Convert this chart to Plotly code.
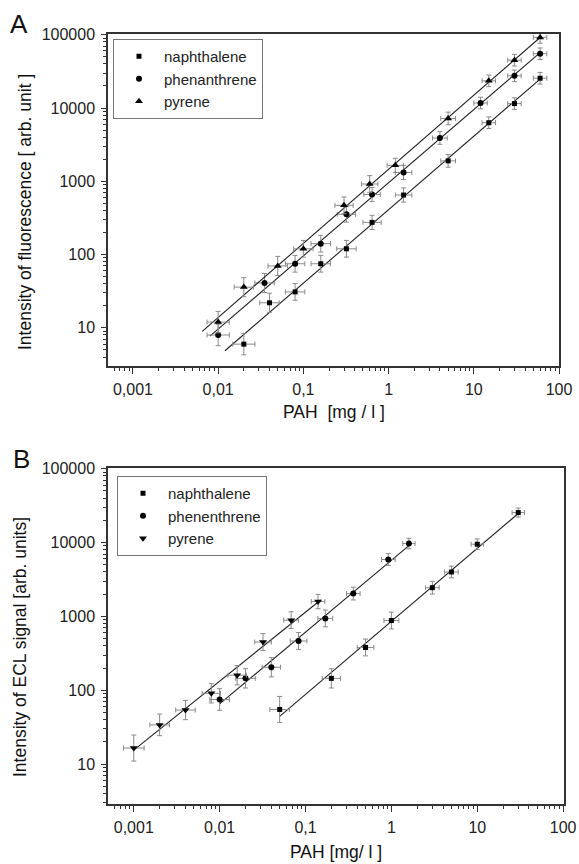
import numpy as np
import plotly.graph_objects as go

# ---------------- Panel A: fluorescence ----------------
a_naph_x = [0.02, 0.04, 0.08, 0.16, 0.32, 0.64, 1.5, 5, 15, 30, 60]
a_naph_y = [6, 22, 31, 75, 120, 275, 650, 1900, 6300, 11500, 25500]
a_phen_x = [0.01, 0.035, 0.08, 0.16, 0.32, 0.64, 1.5, 4, 12, 30, 60]
a_phen_y = [8, 41, 75, 141, 355, 660, 1320, 3900, 11700, 27500, 55000]
a_pyr_x = [0.01, 0.02, 0.05, 0.1, 0.3, 0.6, 1.2, 5, 15, 30, 60]
a_pyr_y = [12, 36, 70, 120, 470, 920, 1650, 7200, 23500, 45000, 92000]

a_naph_yfac = [1.4, 1.35, 1.3, 1.3, 1.3, 1.25, 1.25, 1.22, 1.2, 1.2, 1.2]
a_naph_xfac = [1.35, 1.3, 1.3, 1.3, 1.3, 1.28, 1.25, 1.22, 1.2, 1.2, 1.2]
a_phen_yfac = [1.4, 1.35, 1.3, 1.3, 1.28, 1.25, 1.25, 1.22, 1.2, 1.2, 1.2]
a_phen_xfac = [1.35, 1.3, 1.3, 1.3, 1.28, 1.25, 1.25, 1.22, 1.2, 1.2, 1.2]
a_pyr_yfac = [1.4, 1.35, 1.35, 1.3, 1.3, 1.3, 1.25, 1.22, 1.2, 1.2, 1.2]
a_pyr_xfac = [1.35, 1.3, 1.3, 1.3, 1.28, 1.25, 1.25, 1.22, 1.2, 1.2, 1.2]

a_naph_fit = [0.012, 60]
a_phen_fit = [0.008, 60]
a_pyr_fit = [0.0065, 60]

# ---------------- Panel B: ECL ----------------
b_naph_x = [0.05, 0.2, 0.5, 1, 3, 5, 10, 30]
b_naph_y = [55, 145, 380, 880, 2450, 4000, 9500, 25500]
b_phen_x = [0.01, 0.02, 0.04, 0.083, 0.17, 0.36, 0.92, 1.6]
b_phen_y = [75, 145, 205, 465, 940, 2040, 5900, 9700]
b_pyr_x = [0.001, 0.002, 0.004, 0.008, 0.016, 0.032, 0.068, 0.14]
b_pyr_y = [16.5, 34, 54, 91, 160, 450, 890, 1590]

b_naph_yfac = [1.5, 1.35, 1.3, 1.3, 1.22, 1.2, 1.18, 1.15]
b_naph_xfac = [1.3, 1.28, 1.25, 1.22, 1.2, 1.2, 1.18, 1.18]
b_phen_yfac = [1.4, 1.35, 1.35, 1.3, 1.3, 1.22, 1.2, 1.18]
b_phen_xfac = [1.3, 1.3, 1.28, 1.25, 1.22, 1.2, 1.2, 1.18]
b_pyr_yfac = [1.5, 1.4, 1.35, 1.35, 1.35, 1.3, 1.3, 1.25]
b_pyr_xfac = [1.32, 1.3, 1.3, 1.28, 1.28, 1.25, 1.22, 1.2]

b_naph_fit = [0.05, 30]
b_phen_fit = [0.01, 1.6]
b_pyr_fit = [0.001, 0.15]

# ---------------- ticks ----------------
x_tick_vals = [0.001, 0.01, 0.1, 1, 10, 100]
x_tick_text = ["0,001", "0,01", "0,1", "1", "10", "100"]
y_tick_vals = [10, 100, 1000, 10000, 100000]
y_tick_text = ["10", "100", "1000", "10000", "100000"]

FONT = "Arial, Liberation Sans, sans-serif"
ERRC = "#8a8a8a"


def errs(v, fac):
    v = np.array(v, dtype=float)
    f = np.array(fac, dtype=float)
    return v * (f - 1), v * (1 - 1 / f)


def fit_line(x, y, xr):
    p = np.polyfit(np.log10(x), np.log10(y), 1)
    xs = np.array(xr, dtype=float)
    return xs, 10 ** np.polyval(p, np.log10(xs))


fig = go.Figure()


def add_series(x, y, xfac, yfac, fit, name, symbol, size, xa, ya, legend):
    xs, ys = fit_line(x, y, fit)
    fig.add_trace(go.Scatter(x=xs, y=ys, mode="lines", line=dict(color="#222", width=1.1),
                             showlegend=False, xaxis=xa, yaxis=ya, hoverinfo="skip"))
    yu, yd = errs(y, yfac)
    xu, xd = errs(x, xfac)
    fig.add_trace(go.Scatter(
        x=x, y=y, mode="markers", name=name, xaxis=xa, yaxis=ya, legend=legend,
        marker=dict(symbol=symbol, size=size, color="black"),
        error_y=dict(type="data", symmetric=False, array=yu, arrayminus=yd,
                     color=ERRC, thickness=1, width=2.5),
        error_x=dict(type="data", symmetric=False, array=xu, arrayminus=xd,
                     color=ERRC, thickness=1, width=2.5),
    ))


add_series(a_naph_x, a_naph_y, a_naph_xfac, a_naph_yfac, a_naph_fit, "naphthalene", "square", 5, "x", "y", "legend")
add_series(a_phen_x, a_phen_y, a_phen_xfac, a_phen_yfac, a_phen_fit, "phenanthrene", "circle", 6, "x", "y", "legend")
add_series(a_pyr_x, a_pyr_y, a_pyr_xfac, a_pyr_yfac, a_pyr_fit, "pyrene", "triangle-up", 7, "x", "y", "legend")

add_series(b_naph_x, b_naph_y, b_naph_xfac, b_naph_yfac, b_naph_fit, "naphthalene", "square", 5, "x2", "y2", "legend2")
add_series(b_phen_x, b_phen_y, b_phen_xfac, b_phen_yfac, b_phen_fit, "phenenthrene", "circle", 6, "x2", "y2", "legend2")
add_series(b_pyr_x, b_pyr_y, b_pyr_xfac, b_pyr_yfac, b_pyr_fit, "pyrene", "triangle-down", 7, "x2", "y2", "legend2")

W, H = 579, 864
minor_x = [m * 10.0 ** e for e in range(-4, 3) for m in range(2, 10)]
minor_y = [m * 10.0 ** e for e in range(0, 5) for m in range(2, 10)]


def xax(domain, anchor, rng):
    return dict(type="log", domain=domain, anchor=anchor, range=rng, automargin=False,
                tickmode="array", tickvals=x_tick_vals, ticktext=x_tick_text,
                ticks="outside", ticklen=6, tickwidth=1.2, tickcolor="#333",
                minor=dict(tickvals=minor_x, ticks="outside", ticklen=3.5, tickwidth=1, tickcolor="#333"),
                showline=True, linecolor="#333", linewidth=1.5, mirror=True,
                showgrid=False, zeroline=False, ticklabelstandoff=2,
                tickfont=dict(family=FONT, size=16, color="#222"))


def yax(domain, anchor, rng):
    return dict(type="log", domain=domain, anchor=anchor, range=rng, automargin=False,
                tickmode="array", tickvals=y_tick_vals, ticktext=y_tick_text,
                ticks="outside", ticklen=5, tickwidth=1.2, tickcolor="#333",
                minor=dict(tickvals=minor_y, ticks="outside", ticklen=3, tickwidth=1, tickcolor="#333"),
                showline=True, linecolor="#333", linewidth=1.5, mirror=True,
                showgrid=False, zeroline=False, ticklabelstandoff=3,
                tickfont=dict(family=FONT, size=16, color="#222"))


leg_common = dict(xanchor="left", yanchor="top", bordercolor="#777", borderwidth=1,
                  bgcolor="white", font=dict(family=FONT, size=15, color="#222"),
                  itemwidth=40, tracegroupgap=0)

fig.update_layout(
    template="none",
    width=W, height=H, margin=dict(l=0, r=0, t=0, b=0, autoexpand=False),
    paper_bgcolor="white", plot_bgcolor="white",
    font=dict(family=FONT, color="#222"),
    xaxis=xax([108 / W, 559 / W], "y", [-3.293, 2.0]),
    yaxis=yax([1 - 366 / H, 1 - 34 / H], "x", [0.48, 5.01]),
    xaxis2=xax([108 / W, 564 / W], "y2", [-3.30, 2.01]),
    yaxis2=yax([1 - 804 / H, 1 - 468 / H], "x2", [0.46, 5.01]),
    legend=dict(x=113 / W, y=1 - 39 / H, **leg_common),
    legend2=dict(x=117 / W, y=1 - 476 / H, **leg_common),
    showlegend=True,
)

ann = [
    dict(text="A", x=19 / W, y=1 - 24 / H, font=dict(size=26)),
    dict(text="B", x=21 / W, y=1 - 459 / H, font=dict(size=26)),
    dict(text="Intensity of fluorescence [ arb. unit ]", x=25 / W, y=1 - 212 / H,
         textangle=-90, font=dict(size=17.5)),
    dict(text="PAH  [mg / l ]", x=334 / W, y=1 - 412 / H, font=dict(size=17.5)),
    dict(text="Intensity of ECL signal [arb. units]", x=20 / W, y=1 - 647 / H,
         textangle=-90, font=dict(size=17.5)),
    dict(text="PAH [mg/ l ]", x=336 / W, y=1 - 852 / H, font=dict(size=17.5)),
]
for a in ann:
    a.update(xref="paper", yref="paper", showarrow=False, xanchor="center", yanchor="middle")
    a["font"].update(family=FONT, color="#111")
fig.update_layout(annotations=ann)

fig.write_html("out.html", config={"displayModeBar": False},
               post_script="document.body.style.margin='0';document.documentElement.style.overflow='hidden';")
